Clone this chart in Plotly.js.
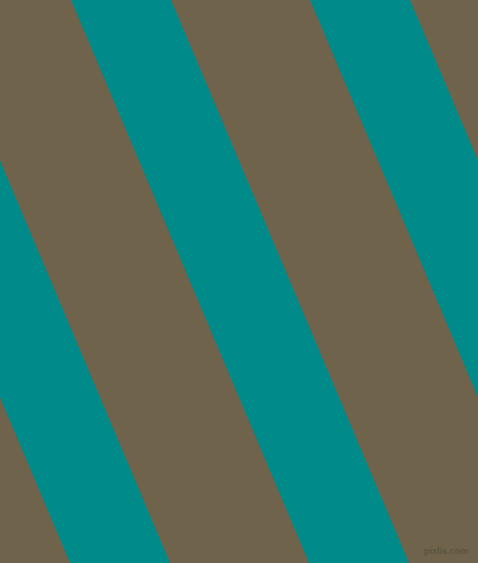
<!DOCTYPE html>
<html>
<head>
<meta charset="utf-8">
<script src="https://cdn.plot.ly/plotly-3.0.1.min.js"></script>
<style>
  html, body { margin: 0; padding: 0; background: #6f644b; overflow: hidden; }
  #chart { width: 478px; height: 563px; }
</style>
</head>
<body>
<div id="chart"></div>
<script>
// teal bands, x where each edge crosses the top row
var bandStart = [-168, 71, 310];
var bandEnd = [-68, 171, 410];
// how far the bands have drifted right by the bottom row
var bandDrift = 238;
var rowTop = 0;
var rowBottom = 563;

var brown = '#6f644b';
var teal = '#008a8a';

var traces = bandStart.map(function (s, i) {
  var e = bandEnd[i];
  return {
    x: [s, e, e + bandDrift, s + bandDrift, s],
    y: [rowTop, rowTop, rowBottom, rowBottom, rowTop],
    mode: 'lines',
    fill: 'toself',
    fillcolor: teal,
    line: { width: 0, color: teal },
    hoverinfo: 'skip',
    showlegend: false
  };
});

var layout = {
  width: 478,
  height: 563,
  margin: { l: 0, r: 0, t: 0, b: 0, pad: 0 },
  paper_bgcolor: brown,
  plot_bgcolor: brown,
  xaxis: { range: [0, 478], visible: false, fixedrange: true },
  yaxis: { range: [563, 0], visible: false, fixedrange: true },
  annotations: [{
    text: '<b>pixlis.com</b>',
    x: 1, y: 0, xref: 'paper', yref: 'paper',
    xanchor: 'right', yanchor: 'bottom',
    xshift: -8, yshift: 5,
    showarrow: false,
    font: { family: 'Liberation Sans', size: 9, color: 'rgba(88,82,66,0.95)' }
  }]
};

Plotly.newPlot('chart', traces, layout, { staticPlot: true, displayModeBar: false });
</script>
</body>
</html>
